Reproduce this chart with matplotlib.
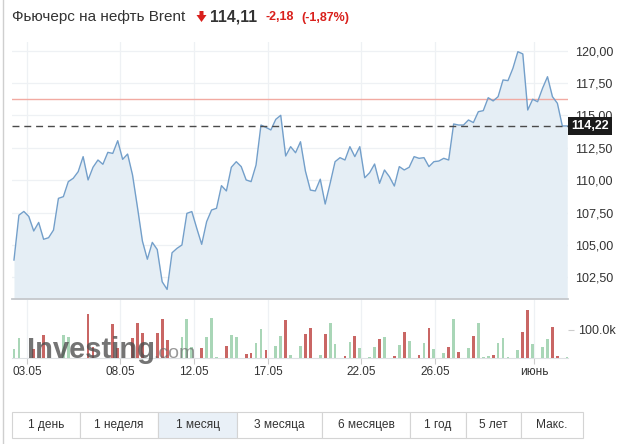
import matplotlib
matplotlib.use('Agg')
import matplotlib.pyplot as plt
from matplotlib.patches import Rectangle, Polygon
from matplotlib.lines import Line2D
import matplotlib.transforms as mtransforms

plt.rcParams['font.family'] = ['Liberation Sans', 'DejaVu Sans']

# ---------------- data ----------------
title = 'Фьючерс на нефть Brent'
quote = '114,11'
change = '-2,18'
change_pct = '(-1,87%)'

price = [103.84, 107.30, 107.59, 107.20, 106.08, 106.74, 105.44, 105.56, 106.15, 108.60,
         108.73, 109.89, 110.15, 110.66, 111.82, 110.02, 111.00, 111.56, 111.23, 112.15,
         112.07, 113.05, 111.61, 112.02, 110.40, 107.90, 105.30, 103.90, 105.20, 104.65,
         102.16, 101.57, 104.40, 104.74, 105.00, 107.44, 107.58, 106.29, 105.05, 106.80,
         107.70, 107.83, 109.58, 109.17, 111.00, 111.43, 111.05, 110.02, 109.89, 111.17,
         114.26, 114.08, 113.88, 114.70, 115.01, 111.87, 112.59, 112.12, 112.97, 110.70,
         109.24, 109.17, 110.08, 108.16, 109.76, 111.43, 111.74, 111.56, 112.59, 111.82,
         112.59, 110.19, 110.58, 111.25, 109.76, 110.79, 110.27, 109.55, 111.05, 110.79,
         111.00, 111.82, 111.69, 111.74, 111.05, 111.43, 111.48, 111.69, 111.56, 114.34,
         114.26, 114.26, 114.65, 114.45, 115.29, 115.37, 116.37, 116.12, 116.45, 117.74,
         117.69, 118.64, 119.92, 119.75, 115.42, 116.25, 116.06, 117.10, 117.99, 116.45,
         115.94, 114.19, 114.19]

# volume in thousands, one per price point
volume = [32, 71, 0, 0, 32, 0, 82, 0, 0, 0,
          82, 76, 0, 0, 0, 156, 41, 0, 0, 0,
          120, 35, 0, 0, 71, 124, 88, 0, 0, 88,
          138, 65, 0, 0, 76, 138, 41, 0, 35, 76,
          141, 2, 0, 44, 82, 74, 0, 14, 18, 53,
          102, 29, 0, 44, 79, 135, 12, 0, 44, 86,
          106, 0, 12, 86, 124, 51, 0, 8, 56, 79,
          35, 0, 4, 39, 67, 74, 0, 8, 47, 94,
          59, 0, 12, 53, 106, 32, 0, 18, 41, 138,
          21, 0, 35, 79, 124, 4, 6, 12, 53, 71,
          2, 0, 29, 92, 171, 51, 0, 41, 67, 109,
          6, 0, 2]
# u = up (green), d = down (red)
vol_dir = ("uuuudddu" "uu"
           "uuuuuddddd"
           "dddddddddd"
           "ddduuuuudu"
           "uuuduuuddu"
           "uduuuduuud"
           "duuduuudud"
           "uuuuduudud"
           "uududuuudu"
           "duuduuuduu"
           "uuudduuuud"
           "duu")

last_price = 114.22
ref_price = 116.27
price_ticks = [102.5, 105.0, 107.5, 110.0, 112.5, 115.0, 117.5, 120.0]
vol_tick = 100
vol_tick_label = '100.0k'

date_labels = ['03.05', '08.05', '12.05', '17.05', '22.05', '26.05', 'июнь']
date_pos = [2.6, 21.5, 36.4, 51.4, 70.2, 85.2, 105.3]

periods = ['1 день', '1 неделя', '1 месяц', '3 месяца', '6 месяцев', '1 год', '5 лет', 'Макс.']
active_period = '1 месяц'

# ---------------- figure ----------------
W, H = 625, 444
fig = plt.figure(figsize=(W / 100, H / 100), dpi=100)
fig.patch.set_facecolor('white')

def fx(px):
    return px / W

def fy(py):
    return 1 - py / H

x = list(range(len(price)))
xlim = (-0.4, 112.15)

# price panel
ax = fig.add_axes([fx(12), fy(299), fx(568) - fx(12), fy(42) - fy(299)])
ylo, yhi = 100.83, 120.67
ax.set_xlim(*xlim)
ax.set_ylim(ylo, yhi)
ax.fill_between(x, price, ylo, color='#e5eef5', lw=0, zorder=1)
ax.plot(x, price, color='#739fca', lw=1.0, zorder=3)
ax.axhline(ref_price, color='#f2aaa2', lw=1.0, zorder=2)
ax.axhline(last_price, color='#4a4a4a', lw=1.0, dashes=(5, 3.5), zorder=4)

ax.set_yticks(price_ticks)
ax.set_yticklabels([f'{v:.2f}'.replace('.', ',') for v in price_ticks])
ax.yaxis.tick_right()
ax.tick_params(axis='y', length=0, pad=5, labelsize=9, labelcolor='#333333')
ax.set_xticks(date_pos)
ax.set_xticklabels([])
ax.tick_params(axis='x', length=0)
ax.grid(True, color='#eef1f4', lw=0.9, zorder=0)
ax.set_axisbelow(True)
for s in ['top', 'left', 'right']:
    ax.spines[s].set_visible(False)
ax.spines['bottom'].set_color('#c5c8cc')
ax.spines['bottom'].set_linewidth(1.3)
ax.set_facecolor('white')

# last price marker box
trans = mtransforms.blended_transform_factory(ax.transAxes, ax.transData)
box_h = 18 / (257 / (yhi - ylo))
ax.add_patch(Rectangle((1.0, last_price - box_h / 2), 44 / 556, box_h, transform=trans,
                       facecolor='#1b1b1b', edgecolor='none', clip_on=False, zorder=10))
ax.text(1.0 + 22 / 556, last_price, f'{last_price:.2f}'.replace('.', ','), transform=trans,
        ha='center', va='center', color='white', fontsize=9, fontweight='bold',
        zorder=11, clip_on=False)

# volume panel
axv = fig.add_axes([fx(12), fy(358), fx(568) - fx(12), fy(300) - fy(358)])
axv.set_xlim(*xlim)
axv.set_ylim(0, 207)
colors = ['#a9d6b7' if d == 'u' else '#c96664' for d in vol_dir]
axv.bar(x, volume, width=0.56, color=colors, zorder=3)
axv.set_yticks([vol_tick])
axv.set_yticklabels([vol_tick_label])
axv.yaxis.tick_right()
axv.tick_params(axis='y', length=4, width=0.8, color='#cccccc', pad=3, labelsize=9,
                labelcolor='#333333')
axv.set_xticks(date_pos)
axv.set_xticklabels(date_labels)
axv.tick_params(axis='x', length=4, width=0.8, color='#cccccc', pad=2, labelsize=8.5,
                labelcolor='#333333')
axv.grid(True, axis='x', color='#eef1f4', lw=0.9, zorder=0)
for s in ['top', 'left', 'right']:
    axv.spines[s].set_visible(False)
axv.spines['bottom'].set_color('#dde0e3')
axv.spines['bottom'].set_linewidth(0.8)

# watermark
fig.text(fx(27), fy(358), 'Investing', fontsize=21, fontweight='bold', color='#4d4d4d',
         alpha=0.78, ha='left', va='baseline', zorder=20)
fig.text(fx(153), fy(358), '.com', fontsize=14, color='#6e6e6e', alpha=0.7,
         ha='left', va='baseline', zorder=20)

# header
fig.text(fx(12), fy(17), title, fontsize=11, color='#333333', ha='left', va='center')
arrow = Polygon([[fx(199.5), fy(11)], [fx(203.5), fy(11)], [fx(203.5), fy(15)],
                 [fx(206.5), fy(15)], [fx(201.5), fy(22)], [fx(196.5), fy(15)],
                 [fx(199.5), fy(15)]], closed=True, transform=fig.transFigure,
                facecolor='#d9201c', edgecolor='none')
fig.patches.append(arrow)
fig.text(fx(210), fy(17), quote, fontsize=11.3, fontweight='bold', color='#333333',
         ha='left', va='center')
fig.text(fx(265), fy(17.5), change, fontsize=9, fontweight='bold', color='#d9201c',
         ha='left', va='center')
fig.text(fx(301), fy(17.5), change_pct, fontsize=9, fontweight='bold', color='#d9201c',
         ha='left', va='center')

# widget left border
fig.add_artist(Line2D([fx(2.5), fx(2.5)], [0, 1], color='#cfcfcf', lw=1.0,
                      transform=fig.transFigure))

# period buttons
edges = [12, 80, 158, 237, 322, 410, 466, 521, 583]
btn_top, btn_bot = 412, 438
for i, lab in enumerate(periods):
    x0, x1 = edges[i], edges[i + 1]
    fc = '#e9f0f7' if lab == active_period else 'white'
    fig.patches.append(Rectangle((fx(x0), fy(btn_bot)), fx(x1) - fx(x0),
                                 fy(btn_top) - fy(btn_bot), transform=fig.transFigure,
                                 facecolor=fc, edgecolor='#d4d4d4', lw=0.8))
    fig.text(fx((x0 + x1) / 2), fy((btn_top + btn_bot) / 2), lab, fontsize=8.6,
             color='#333333', ha='center', va='center')

fig.savefig('out.png', dpi=100)
